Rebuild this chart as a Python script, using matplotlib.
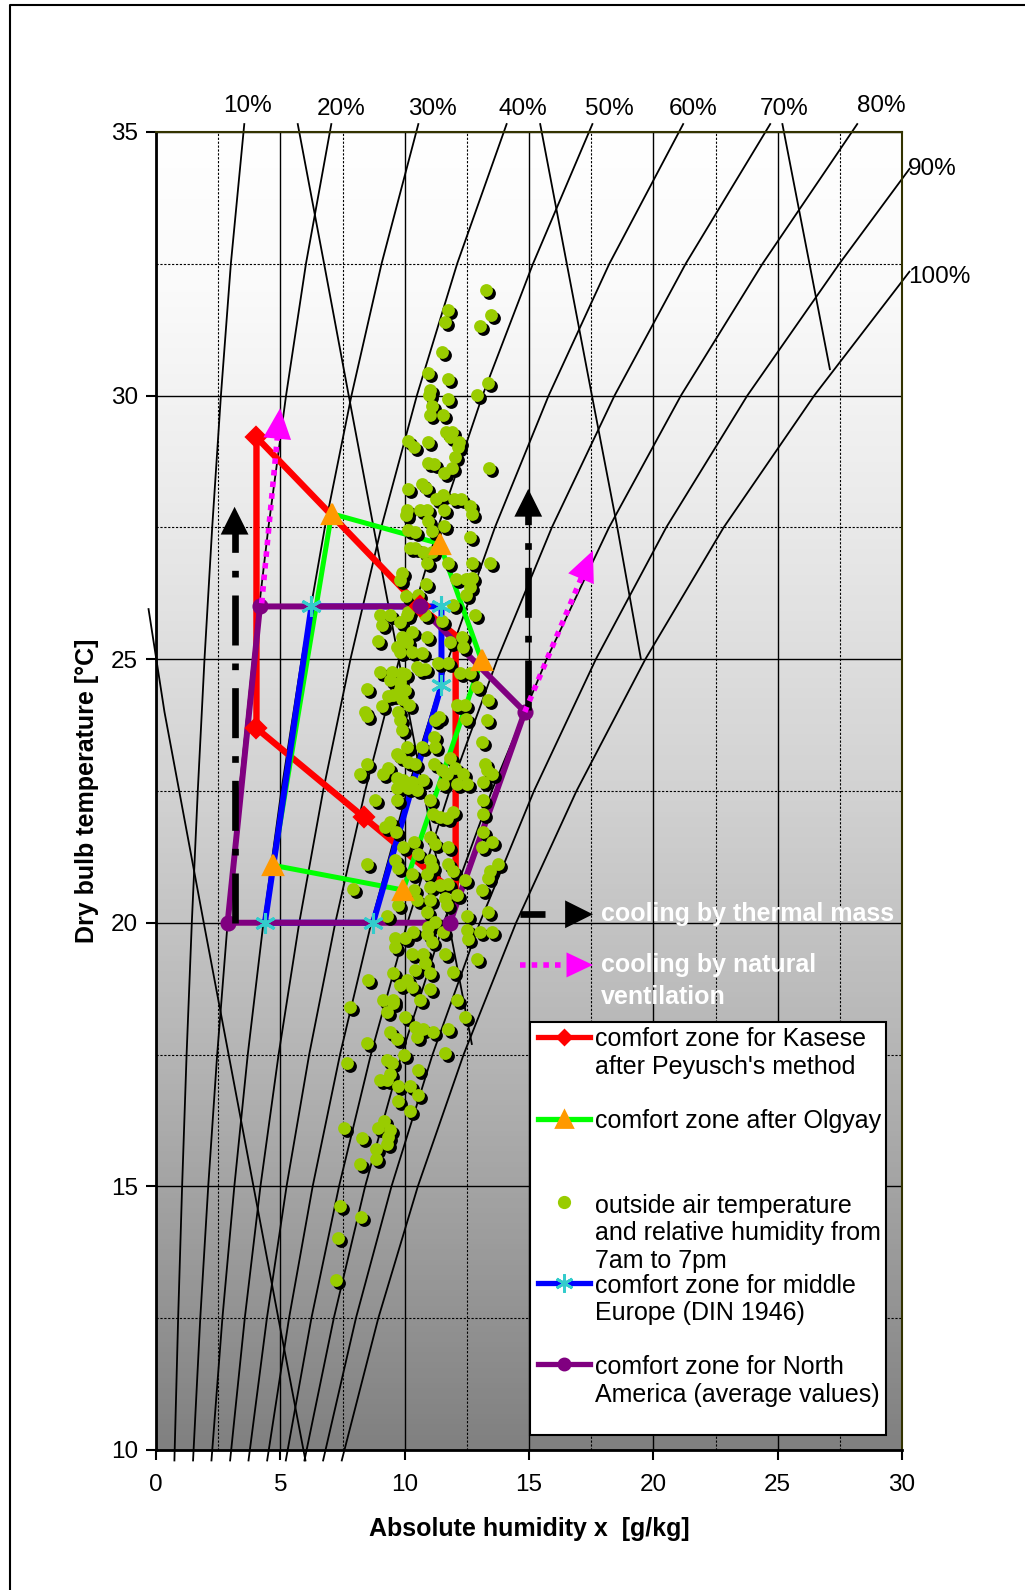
import numpy as np
import matplotlib.pyplot as plt
import matplotlib.transforms as mtransforms
from matplotlib.colors import LinearSegmentedColormap
from matplotlib.lines import Line2D
from matplotlib.patches import Rectangle

plt.rcParams['font.family'] = ['Liberation Sans', 'DejaVu Sans']

# relative humidity curves: absolute humidity x [g/kg] read along the temperature
rh_names = ['10%', '20%', '30%', '40%', '50%', '60%', '70%', '80%', '90%', '100%']
rh_t = [9.8, 12.5, 15, 17.5, 20, 22.5, 25, 27.5, 30, 32.5, 35.15]
rh10 = [0.74, 0.89, 1.05, 1.23, 1.44, 1.68, 1.95, 2.26, 2.61, 3.01, 3.55]
rh20 = [1.49, 1.78, 2.10, 2.46, 2.88, 3.35, 3.90, 4.52, 5.23, 6.03, 7.05]
rh30 = [2.23, 2.67, 3.15, 3.69, 4.32, 5.04, 5.86, 6.79, 7.86, 9.07, 10.55]
rh40 = [2.98, 3.57, 4.20, 4.93, 5.76, 6.72, 7.82, 9.06, 10.49, 12.11, 14.1]
rh50 = [3.72, 4.46, 5.25, 6.16, 7.21, 8.41, 9.78, 11.34, 13.13, 15.16, 17.55]
rh60 = [4.47, 5.35, 6.30, 7.40, 8.66, 10.10, 11.75, 13.63, 15.79, 18.23, 21.2]
rh70 = [5.22, 6.25, 7.36, 8.64, 10.11, 11.80, 13.73, 15.92, 18.44, 21.30, 24.7]
rh80 = [5.97, 7.15, 8.41, 9.88, 11.57, 13.50, 15.71, 18.22, 21.11, 24.39, 28.2]
rh90_t = [9.8, 12.5, 15, 17.5, 20, 22.5, 25, 27.5, 30, 32.5, 34.3]
rh90 = [6.72, 8.04, 9.47, 11.12, 13.02, 15.20, 17.69, 20.52, 23.78, 27.48, 30.3]
rh100_t = [9.8, 12.5, 15, 17.5, 20, 22.5, 25, 27.5, 30, 32.35]
rh100 = [7.47, 8.94, 10.53, 12.37, 14.48, 16.91, 19.68, 22.83, 26.47, 30.3]

# enthalpy curves (the backward leaning lines)
h25_x = [-0.3, 0.34, 1.92, 2.92, 3.92, 4.92, 6.01]
h25_t = [25.95, 24, 20, 17.5, 15, 12.5, 9.8]
h50_x = [5.7, 6.76, 7.75, 8.75, 9.76, 10.76, 11.77, 12.7]
h50_t = [35.15, 32.5, 30, 27.5, 25, 22.5, 20, 17.7]
h75_x = [15.45, 16.52, 17.53, 18.55, 19.5]
h75_t = [35.15, 32.5, 30, 27.5, 25.0]
h100_x = [25.19, 26.28, 27.1]
h100_t = [35.15, 32.5, 30.5]

# comfort zones
kasese_x = [4.04, 10.6, 12.05, 12.05, 8.36, 4.04, 4.04]
kasese_t = [29.21, 26.0, 25.45, 20.55, 22.0, 23.69, 29.21]
olgyay_x = [7.06, 11.41, 13.09, 9.94, 4.71, 7.06]
olgyay_t = [27.76, 27.19, 24.98, 20.62, 21.09, 27.76]
din_x = [4.38, 6.25, 11.48, 11.48, 8.73, 4.38]
din_t = [20.0, 26.0, 26.0, 24.51, 20.0, 20.0]
na_x = [2.88, 4.18, 10.6, 14.83, 11.82, 2.88]
na_t = [20.0, 26.0, 26.0, 24.0, 20.0, 20.0]

# cooling strategies (start -> arrow tip)
mass_left = ([3.16, 3.16], [20.0, 27.89])
mass_right = ([14.97, 14.97], [24.03, 28.23])
vent_left = ([4.25, 4.99], [26.06, 29.76])
vent_right = ([14.83, 17.57], [24.0, 27.06])

# outside air, 7am to 7pm (x [g/kg], T [degC])
outside_pts = [
    (13.27, 32.01), (11.75, 31.62), (13.47, 31.53), (11.62, 31.40), (13.03, 31.32), (11.49, 30.83), (10.92, 30.42),
    (11.75, 30.31), (13.36, 30.23), (11.02, 30.11), (10.96, 30.01), (12.89, 30.02), (11.75, 29.93), (11.11, 29.81),
    (11.02, 29.63), (11.53, 29.63), (11.66, 29.31), (11.89, 29.31), (11.82, 29.22), (12.20, 29.11), (10.12, 29.13),
    (10.39, 29.03), (10.92, 29.11), (12.16, 29.03), (12.02, 28.84), (10.92, 28.73), (11.18, 28.71), (11.92, 28.63),
    (11.59, 28.54), (13.39, 28.62), (10.68, 28.33), (10.86, 28.24), (10.13, 28.23), (11.24, 28.04), (11.55, 28.11),
    (12.00, 28.03), (12.25, 28.03), (12.63, 27.91), (10.11, 27.83), (10.05, 27.73), (10.61, 27.83), (10.88, 27.83),
    (11.58, 27.83), (12.69, 27.75), (10.95, 27.62), (11.58, 27.52), (10.15, 27.45), (10.41, 27.42), (11.08, 27.44),
    (12.63, 27.32),
    (10.21, 27.11), (10.41, 27.11), (10.75, 27.04), (11.08, 27.04), (10.91, 26.82), (11.75, 26.82), (12.69, 26.82),
    (13.43, 26.82), (9.88, 26.63), (9.81, 26.50), (10.86, 26.42), (12.06, 26.52), (12.46, 26.52), (12.69, 26.53),
    (12.63, 26.37), (12.45, 26.21), (10.05, 26.20), (10.55, 26.21), (10.15, 25.90), (10.08, 25.84), (9.01, 25.84),
    (9.41, 25.84), (9.07, 25.65), (9.81, 25.71), (10.82, 25.84), (11.49, 25.72), (11.93, 26.02), (12.83, 25.84),
    (10.28, 25.52), (9.88, 25.42), (10.88, 25.42), (8.94, 25.34), (9.68, 25.23), (10.08, 25.33), (11.82, 25.33),
    (12.29, 25.42), (12.36, 25.23), (9.81, 25.14), (10.28, 25.14), (10.68, 25.11), (11.35, 24.92), (11.75, 24.92),
    (10.48, 24.85), (10.61, 24.79), (10.82, 24.82), (9.01, 24.75), (9.48, 24.76), (9.88, 24.73), (10.01, 24.71),
    (12.22, 24.73), (12.63, 24.73), (9.41, 24.60), (9.81, 24.57), (9.81, 24.44), (10.01, 24.41), (8.47, 24.43),
    (12.89, 24.47), (9.52, 24.32), (9.34, 24.30), (9.88, 24.25), (9.07, 24.11), (10.19, 24.13), (12.12, 24.13),
    (12.42, 24.13), (13.36, 24.22), (8.40, 24.00), (8.47, 23.92), (9.74, 24.00), (9.81, 23.84), (11.38, 23.91),
    (11.22, 23.84), (12.45, 23.87), (13.30, 23.84), (9.88, 23.65), (11.19, 23.53), (13.12, 23.43), (10.11, 23.34),
    (10.68, 23.34), (11.22, 23.34), (9.68, 23.21), (9.81, 23.15), (10.15, 23.05), (10.41, 23.02), (8.47, 23.02),
    (11.19, 23.02), (11.82, 23.12), (13.23, 23.02), (9.34, 22.93), (9.14, 22.83), (8.20, 22.83), (9.68, 22.74),
    (9.94, 22.70), (10.28, 22.67), (10.75, 22.70), (11.49, 22.89), (11.69, 22.83), (12.02, 22.93), (12.36, 22.83),
    (13.30, 22.89), (13.50, 22.83), (9.68, 22.55), (10.15, 22.55), (10.48, 22.52), (11.55, 22.64), (12.09, 22.64),
    (12.49, 22.64), (13.16, 22.67),
    (8.81, 22.32), (9.68, 22.32), (11.02, 22.32), (13.16, 22.32), (13.16, 22.07), (11.15, 22.07), (11.42, 22.01),
    (11.96, 22.10), (11.69, 21.98), (9.41, 21.91), (9.21, 21.82), (9.65, 21.72), (13.16, 21.72), (13.50, 21.53),
    (13.09, 21.44), (11.02, 21.63), (11.22, 21.50), (10.39, 21.53), (9.94, 21.43), (10.55, 21.31), (11.75, 21.43),
    (8.47, 21.12), (9.61, 21.19), (9.74, 21.03), (11.02, 21.19), (11.08, 21.06), (11.75, 21.12), (11.96, 20.99),
    (13.76, 21.12), (13.43, 20.99), (13.36, 20.84), (10.28, 20.93), (10.91, 20.93), (12.42, 20.82), (7.93, 20.64),
    (10.39, 20.63), (11.02, 20.68), (11.42, 20.71), (11.75, 20.74), (13.09, 20.63), (10.48, 20.43), (11.02, 20.43),
    (11.62, 20.46), (12.09, 20.52), (9.74, 20.33), (11.69, 20.33), (10.88, 20.20), (9.27, 20.12), (12.49, 20.12),
    (13.36, 20.20), (11.22, 20.02), (10.95, 19.92), (10.35, 19.83), (11.55, 19.83), (12.49, 19.86), (13.03, 19.83),
    (13.50, 19.83), (9.61, 19.71), (10.01, 19.71), (10.88, 19.78), (11.08, 19.64), (12.56, 19.70), (9.61, 19.54),
    (10.28, 19.41), (10.75, 19.41), (11.62, 19.41), (12.89, 19.32), (10.82, 19.23), (10.41, 19.10), (9.54, 19.04),
    (11.02, 19.04), (11.96, 19.07), (8.54, 18.92), (10.08, 18.91), (9.81, 18.81), (10.28, 18.78), (11.02, 18.75),
    (10.61, 18.53), (9.14, 18.53), (9.54, 18.53), (9.54, 18.47), (12.09, 18.53), (7.80, 18.41), (9.27, 18.31),
    (12.42, 18.21), (10.01, 18.21), (10.41, 18.02), (10.75, 17.99), (11.15, 17.93), (11.75, 17.99), (9.41, 17.93),
    (9.68, 17.80), (8.47, 17.71), (10.48, 17.83),
    (9.98, 17.50), (11.62, 17.52), (7.67, 17.33), (9.27, 17.40), (9.48, 17.33), (10.55, 17.21), (9.41, 17.14),
    (9.01, 17.02), (9.27, 17.01), (9.74, 16.90), (10.21, 16.90), (10.55, 16.73), (9.74, 16.61), (10.21, 16.42),
    (9.18, 16.23), (8.94, 16.11), (9.41, 16.06), (9.34, 15.94), (9.27, 15.81), (7.56, 16.11), (8.27, 15.92),
    (8.85, 15.71), (8.85, 15.51), (8.20, 15.43), (7.40, 14.63), (8.23, 14.42), (7.33, 14.02), (7.24, 13.23),
]

legend_labels = [
    "comfort zone for Kasese\nafter Peyusch's method",
    "comfort zone after Olgyay",
    "outside air temperature\nand relative humidity from\n7am to 7pm",
    "comfort zone for middle\nEurope (DIN 1946)",
    "comfort zone for North\nAmerica (average values)",
]

fig = plt.figure(figsize=(10.25, 15.9), dpi=100)
ax = fig.add_axes([0.1522, 0.0881, 0.7278, 0.8289])

# grey gradient plot area
bg = LinearSegmentedColormap.from_list('bg', [(0, '#808080'), (0.12, '#969696'), (0.3, '#b5b5b5'),
                                              (0.5, '#d2d2d2'), (0.7, '#e9e9e9'), (0.88, '#fafafa'),
                                              (1, '#ffffff')])
ax.imshow(np.linspace(0, 1, 256).reshape(-1, 1), cmap=bg, origin='lower',
          extent=[0, 30, 10, 35], aspect='auto', zorder=0)

ax.set_xlim(0, 30)
ax.set_ylim(10, 35)
ax.set_xticks(np.arange(0, 31, 5))
ax.set_yticks(np.arange(10, 36, 5))
ax.set_xticks(np.arange(2.5, 30, 5), minor=True)
ax.set_yticks(np.arange(12.5, 35, 5), minor=True)
ax.grid(which='major', color='black', lw=1.0, zorder=1)
ax.grid(which='minor', color='black', lw=0.8, linestyle=(0, (2, 1.5)), zorder=1)
ax.tick_params(which='major', direction='out', length=7, width=1.5, labelsize=17.5)
ax.tick_params(axis='x', pad=10)
ax.tick_params(axis='y', pad=6)
ax.tick_params(which='minor', length=0)
for s in ['left', 'bottom']:
    ax.spines[s].set_linewidth(2)
for s in ['top', 'right']:
    ax.spines[s].set_color('#333300')
    ax.spines[s].set_linewidth(1.5)

# RH and enthalpy lines
rh_lines = [(rh10, rh_t), (rh20, rh_t), (rh30, rh_t), (rh40, rh_t), (rh50, rh_t), (rh60, rh_t),
            (rh70, rh_t), (rh80, rh_t), (rh90, rh90_t), (rh100, rh100_t)]
for xs, ts in rh_lines:
    ax.plot(xs, ts, color='black', lw=1.3, zorder=2, clip_on=False)
for xs, ts in [(h25_x, h25_t), (h50_x, h50_t), (h75_x, h75_t), (h100_x, h100_t)]:
    ax.plot(xs, ts, color='black', lw=1.3, zorder=2, clip_on=False)

rh_label_xy = [(3.66, 35.5), (7.43, 35.43), (11.13, 35.43), (14.76, 35.43), (18.23, 35.43),
               (21.61, 35.43), (25.24, 35.43), (29.15, 35.5), (31.23, 34.3), (31.52, 32.24)]
for name, (lx, ly) in zip(rh_names, rh_label_xy):
    ax.text(lx, ly, name, fontsize=17.5, ha='center', va='center', clip_on=False)

# comfort zones: lines below the scatter, markers above it
zones = [
    (kasese_x, kasese_t, 'red', 4.6, 'D', 'red', 10, 1.6, [0, 1, 4, 5]),
    (olgyay_x, olgyay_t, '#00ff00', 3.6, '^', '#ff9900', 15, 1.6, [0, 1, 2, 3, 4]),
    (din_x, din_t, 'blue', 4.3, (6, 2, 0), '#33cccc', 15, 2.2, [0, 1, 2, 3, 4]),
    (na_x, na_t, 'purple', 4.3, 'o', 'purple', 10, 1.6, [0, 1, 2, 3, 4]),
]
for i, (xs, ts, lc, lw, mk, mc, ms, mew, every) in enumerate(zones):
    ax.plot(xs, ts, color=lc, lw=lw, zorder=2.5 + i * 0.1, solid_joinstyle='miter')
    ax.plot(np.array(xs)[every], np.array(ts)[every], ls='none', marker=mk, ms=ms,
            mfc=mc, mec=mc, mew=mew, zorder=4 + i * 0.1)

ox, ot = np.array(outside_pts).T
shadow = mtransforms.offset_copy(ax.transData, fig=fig, x=3, y=-3, units='dots')
ax.scatter(ox, ot, s=85, color='black', linewidths=0, transform=shadow, zorder=3)
ax.scatter(ox, ot, s=85, color='#99cc00', linewidths=0, zorder=3.1)


def head(ax, x0, y0, x1, y1, color, hl, hw, z=6):
    ax.annotate('', xy=(x1, y1), xytext=(x0, y0), annotation_clip=False,
                arrowprops=dict(arrowstyle='-|>,head_length=%s,head_width=%s' % (hl, hw),
                                color=color, lw=0, shrinkA=0, shrinkB=0, mutation_scale=20),
                zorder=z)


dashdot = (0, (7.5, 2.7, 1.0, 2.7))
dotted = (0, (1, 1.1))
# thermal mass arrows (black dash-dot)
for xs, ts in [mass_left, mass_right]:
    ax.plot([xs[0], xs[1]], [ts[0], ts[1] - 0.5], color='black', lw=4.8, ls=dashdot,
            dash_capstyle='butt', zorder=5)
    head(ax, xs[0], ts[0], xs[1], ts[1], 'black', 1.0, 0.5)
# natural ventilation arrows (magenta dotted)
for xs, ts in [vent_left, vent_right]:
    f = 0.86
    ax.plot([xs[0], xs[0] + f * (xs[1] - xs[0])], [ts[0], ts[0] + f * (ts[1] - ts[0])],
            color='#ff00ff', lw=4.0, ls=dotted, dash_capstyle='butt', zorder=5)
    head(ax, xs[0], ts[0], xs[1], ts[1], '#ff00ff', 1.1, 0.5)

# arrow keys
ax.plot([14.64, 15.64], [20.16, 20.16], color='black', lw=4.8, solid_capstyle='butt', zorder=6)
head(ax, 14.64, 20.16, 17.57, 20.16, 'black', 1.0, 0.5)
ax.plot([14.64, 16.5], [19.2, 19.2], color='#ff00ff', lw=4.0, ls=dotted, dash_capstyle='butt', zorder=6)
head(ax, 14.64, 19.2, 17.57, 19.2, '#ff00ff', 0.95, 0.45)
ax.text(17.9, 20.17, 'cooling by thermal mass', color='white', fontsize=18, fontweight='bold',
        va='center', zorder=7, clip_on=False)
ax.text(17.9, 19.19, 'cooling by natural', color='white', fontsize=18, fontweight='bold',
        va='center', zorder=7, clip_on=False)
ax.text(17.9, 18.59, 'ventilation', color='white', fontsize=18, fontweight='bold',
        va='center', zorder=7, clip_on=False)

# legend box
ax.add_patch(Rectangle((15.05, 10.28), 14.31, 7.83, facecolor='white', edgecolor='black',
                       lw=1.5, zorder=7))
handle_t = [17.84, 16.28, 14.71, 13.17, 11.63]
text_t = [17.79, 16.23, 14.63, 13.11, 11.57]
handle_style = [('red', 'D', 'red', 7), ('#00ff00', '^', '#ff9900', 12), (None, 'o', '#99cc00', 7.5),
                ('blue', (6, 2, 0), '#33cccc', 13), ('purple', 'o', 'purple', 8)]
for lab, ht, tt, (lc, mk, mc, ms) in zip(legend_labels, handle_t, text_t, handle_style):
    if lc:
        ax.plot([15.36, 17.45], [ht, ht], color=lc, lw=3.8, zorder=8)
    ax.plot([16.41], [ht], ls='none', marker=mk, ms=ms, mfc=mc, mec=mc, mew=2, zorder=8.1)
    for k, line in enumerate(lab.split('\n')):
        ax.text(17.65, tt - k * 0.52, line, fontsize=18, va='center', zorder=8)

fig.text(0.0849, 0.5025, 'Dry bulb temperature [°C]', rotation=90, fontsize=18,
         fontweight='bold', ha='center', va='center')
fig.text(0.516, 0.0384, 'Absolute humidity x  [g/kg]', fontsize=18, fontweight='bold',
         ha='center', va='center')

# outer frame
fig.add_artist(Line2D([10 / 1025, 10 / 1025, 1.0], [0, 1 - 5 / 1590, 1 - 5 / 1590],
                      transform=fig.transFigure, color='black', lw=1.5))

fig.savefig('out.png', dpi=100)
